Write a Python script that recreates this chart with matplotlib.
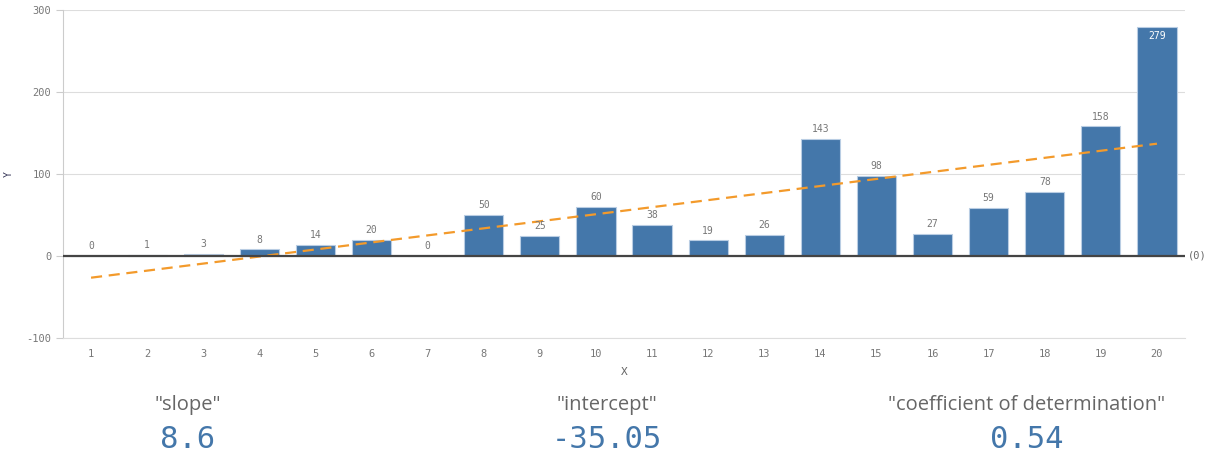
import numpy as np
import matplotlib.pyplot as plt

plt.rcParams["axes.unicode_minus"] = False

# dane
x_vals = list(range(1, 21))
y_vals = [0, 1, 3, 8, 14, 20, 0, 50, 25, 60, 38, 19, 26, 143, 98, 27, 59, 78, 158, 279]
slope = 8.6
intercept = -35.05
r2 = 0.54

kpi_titles = ['"slope"', '"intercept"', '"coefficient of determination"']
kpi_values = ["8.6", "-35.05", "0.54"]

BAR_COLOR = "#4477aa"
TREND_COLOR = "#f39a2b"
MONO = "DejaVu Sans Mono"

fig = plt.figure(figsize=(12.06, 4.58), dpi=100)
ax = fig.add_axes([63 / 1206, 120 / 458, 1122 / 1206, 328 / 458])

ax.bar(x_vals, y_vals, width=0.7, color=BAR_COLOR, edgecolor="#b9cde3",
       linewidth=0.8, zorder=3)

# trendo linija
xs = np.array([x_vals[0], x_vals[-1]])
ax.plot(xs, slope * xs + intercept, color=TREND_COLOR, lw=1.6,
        dashes=(5, 3), zorder=4)

for x, y in zip(x_vals, y_vals):
    if y > 250:
        ax.text(x, y - 5, str(y), ha="center", va="top", fontsize=7,
                family=MONO, color="white", zorder=5)
    else:
        ax.text(x, y + 6, str(y), ha="center", va="bottom", fontsize=7,
                family=MONO, color="#777777", zorder=5)

ax.set_xlim(0.5, 20.5)
ax.set_ylim(-100, 300)
ax.set_yticks([-100, 0, 100, 200, 300])
ax.set_xticks(x_vals)
ax.grid(axis="y", color="#dddddd", lw=0.8, zorder=0)
ax.axhline(0, color="#444444", lw=1.6, zorder=4)

for s in ["top", "right"]:
    ax.spines[s].set_visible(False)
ax.spines["left"].set_color("#cccccc")
ax.spines["bottom"].set_color("#dddddd")
ax.tick_params(axis="y", length=5, color="#cccccc", labelsize=7.5,
               labelcolor="#777777")
ax.tick_params(axis="x", length=0, pad=8, labelsize=7.5, labelcolor="#777777")
for lbl in ax.get_xticklabels() + ax.get_yticklabels():
    lbl.set_family(MONO)

ax.set_xlabel("X", fontsize=8, family=MONO, color="#666666", labelpad=6)
ax.set_ylabel("Y", fontsize=7, family=MONO, color="#333355")
ax.yaxis.set_label_coords(-0.044, 0.5)
ax.text(1.003, 0.25, "(0)", transform=ax.transAxes, ha="left", va="center",
        fontsize=7.5, family=MONO, color="#666666")

# KPI blokai apačioje
kpi_x = [188 / 1206, 607 / 1206, 1027 / 1206]
for xp, t, v in zip(kpi_x, kpi_titles, kpi_values):
    fig.text(xp, 1 - 405 / 458, t, ha="center", va="center", fontsize=14.5,
             family="Open Sans", color="#666666")
    fig.text(xp, 1 - 440 / 458, v, ha="center", va="center", fontsize=22,
             family=MONO, color=BAR_COLOR)

fig.savefig("out.png", dpi=100)
